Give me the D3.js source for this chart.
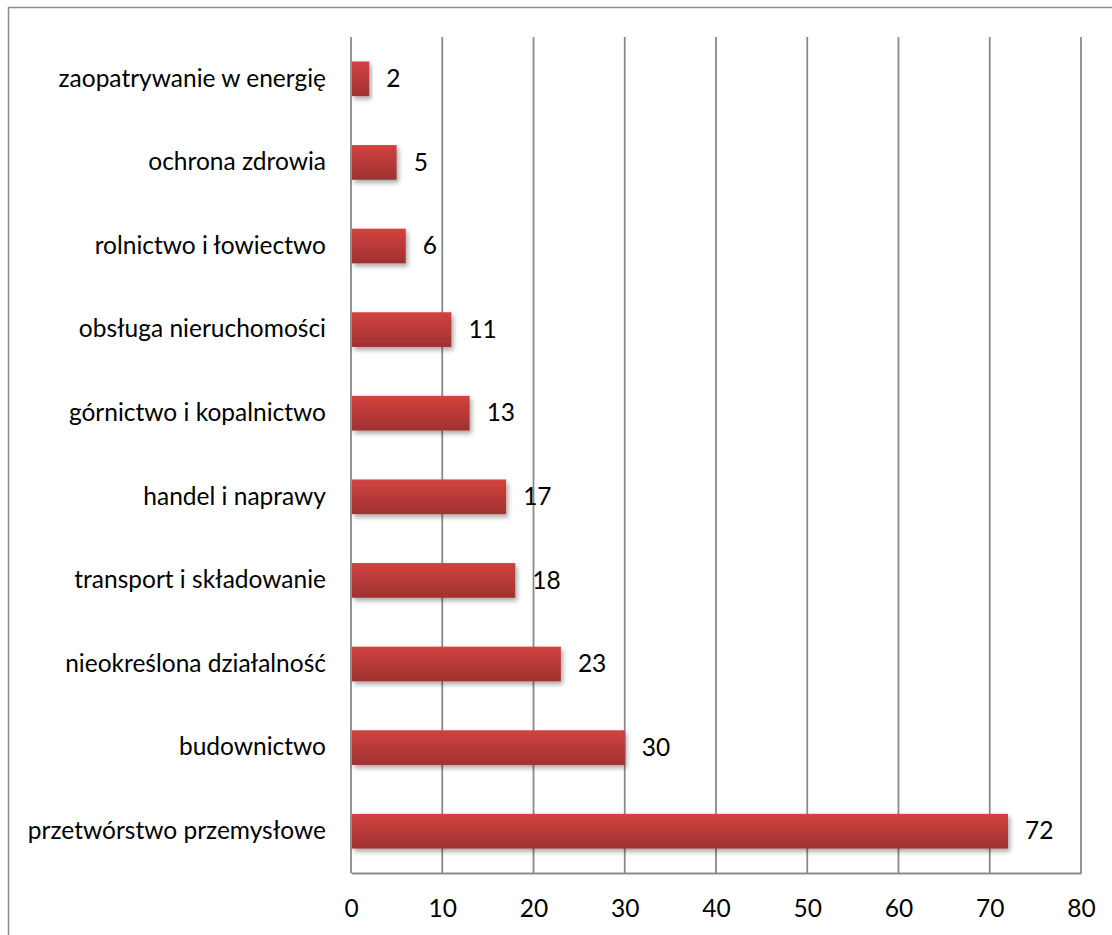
<!DOCTYPE html>
<html>
<head>
<meta charset="utf-8">
<script src="https://cdn.jsdelivr.net/npm/d3@7"></script>
<style>
  html, body { margin: 0; padding: 0; background: #fff; }
  svg { display: block; }
  text { font-family: Lato, "Open Sans", sans-serif; fill: #000; }
</style>
</head>
<body>
<svg id="chart" width="1112" height="935"></svg>
<script>
const categories = [
  "zaopatrywanie w energię",
  "ochrona zdrowia",
  "rolnictwo i łowiectwo",
  "obsługa nieruchomości",
  "górnictwo i kopalnictwo",
  "handel i naprawy",
  "transport i składowanie",
  "nieokreślona działalność",
  "budownictwo",
  "przetwórstwo przemysłowe"
];
const values = [2, 5, 6, 11, 13, 17, 18, 23, 30, 72];
const tickValues = [0, 10, 20, 30, 40, 50, 60, 70, 80];

const svg = d3.select("#chart");
const W = 1112, H = 935;
const plot = { left: 351, right: 1081, top: 37, bottom: 873 };
const FS = "24.5px";

// outer frame (clipped at right/bottom like the reference)
svg.append("rect")
  .attr("x", 8.5).attr("y", 7.5)
  .attr("width", W + 20).attr("height", H + 20)
  .attr("fill", "none").attr("stroke", "#8c8c8c").attr("stroke-width", 1.5);

const x = d3.scaleLinear().domain([0, 80]).range([plot.left, plot.right]);
const y = d3.scaleBand().domain(categories).range([plot.top, plot.bottom]).paddingInner(0.585).paddingOuter(0.2925);

const defs = svg.append("defs");
const grad = defs.append("linearGradient").attr("id", "barGrad")
  .attr("x1", 0).attr("y1", 0).attr("x2", 0).attr("y2", 1);
grad.append("stop").attr("offset", "0%").attr("stop-color", "#d2433f");
grad.append("stop").attr("offset", "100%").attr("stop-color", "#9f3130");

const filt = defs.append("filter").attr("id", "shadow")
  .attr("x", "-10%").attr("y", "-30%").attr("width", "130%").attr("height", "180%");
filt.append("feGaussianBlur").attr("in", "SourceAlpha").attr("stdDeviation", 2.5).attr("result", "blur");
filt.append("feOffset").attr("in", "blur").attr("dx", 2).attr("dy", 3).attr("result", "off");
filt.append("feComponentTransfer").attr("in", "off").attr("result", "offA")
  .append("feFuncA").attr("type", "linear").attr("slope", 0.35);
const merge = filt.append("feMerge");
merge.append("feMergeNode").attr("in", "offA");
merge.append("feMergeNode").attr("in", "SourceGraphic");

// gridlines
svg.append("g").selectAll("line").data(tickValues).join("line")
  .attr("x1", d => x(d)).attr("x2", d => x(d))
  .attr("y1", plot.top).attr("y2", plot.bottom)
  .attr("stroke", "#8a8a8a").attr("stroke-width", 1.8);

// bottom axis
const xAxis = d3.axisBottom(x).tickValues(tickValues).tickSize(0).tickPadding(27).tickFormat(d3.format("d"));
const ax = svg.append("g").attr("transform", `translate(0,${plot.bottom})`).call(xAxis);
ax.select(".domain").attr("stroke", "#8a8a8a").attr("stroke-width", 1.8);
ax.selectAll("text").style("font-size", FS).style("font-family", "Lato, sans-serif").attr("fill", "#000");

// left axis labels
const yAxis = d3.axisLeft(y).tickSize(0).tickPadding(25);
const ay = svg.append("g").attr("transform", `translate(${plot.left},0)`).call(yAxis);
ay.select(".domain").remove();
ay.selectAll("text").style("font-size", FS).style("font-family", "Lato, sans-serif").attr("fill", "#000");

// bars
svg.append("g").selectAll("rect").data(values).join("rect")
  .attr("x", x(0) + 1)
  .attr("y", (d, i) => y(categories[i]))
  .attr("width", d => x(d) - x(0) - 1)
  .attr("height", y.bandwidth())
  .attr("fill", "url(#barGrad)")
  .attr("filter", "url(#shadow)");

// value labels
svg.append("g").selectAll("text").data(values).join("text")
  .attr("x", d => x(d) + 17)
  .attr("y", (d, i) => y(categories[i]) + y.bandwidth() / 2 + 2)
  .attr("dominant-baseline", "middle")
  .style("font-size", FS)
  .text(d => d);
</script>
</body>
</html>
